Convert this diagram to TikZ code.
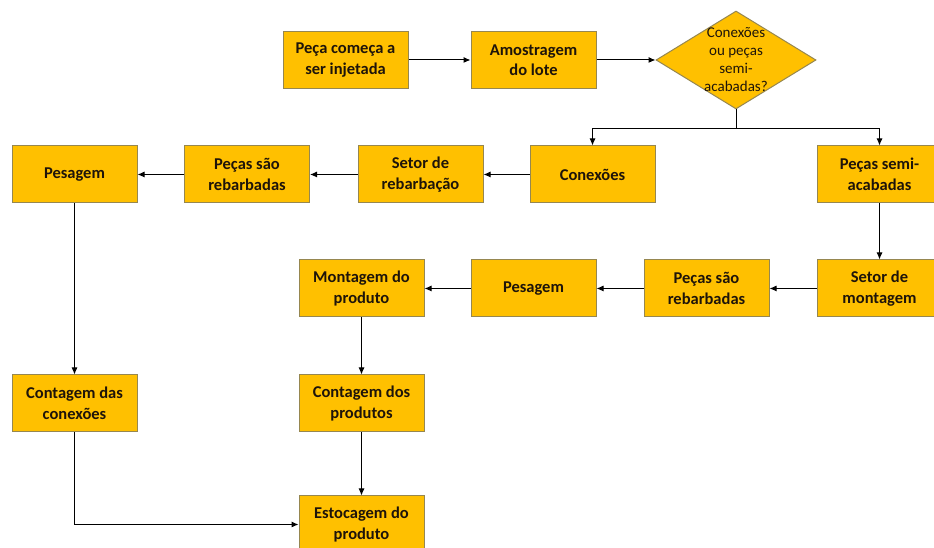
\documentclass[tikz,border=0pt]{standalone}
\usepackage{fontspec}
\setmainfont{Carlito}
\usetikzlibrary{arrows.meta, shapes.geometric, positioning}
\definecolor{boxfill}{HTML}{FFC000}
\definecolor{boxline}{RGB}{150,135,80}
\definecolor{boxtext}{RGB}{30,20,10}
\tikzset{>={Latex[length=7pt,width=6pt]}}

\begin{document}
\begin{tikzpicture}[x=1pt, y=1pt, line width=1pt,
    etapa/.style={draw=boxline, fill=boxfill, rectangle, minimum width=125pt, minimum height=57pt,
        align=center, text=boxtext, font=\fontsize{16.5}{20.5}\selectfont\bfseries},
    decisao/.style={draw=boxline, fill=boxfill, diamond, inner sep=0pt, minimum width=160pt, minimum height=98pt}]
    \useasboundingbox (0,0) rectangle (934,548);

    \node (inj) [etapa] at (345.5,488) {Peça começa a\\ser injetada};
    \node (amo) [etapa] at (533.5,488) {Amostragem\\do lote};
    \node (dec) [decisao, label={[align=center, text=boxtext, font=\fontsize{15}{18}\selectfont]center:Conexões\\ou peças\\semi-\\acabadas?}] at (736,488) {};

    \node (con) [etapa] at (592.5,373.5) {Conexões};
    \node (semi) [etapa] at (879.5,373.5) {Peças semi-\\acabadas};
    \node (setreb) [etapa] at (420.5,373.5) {Setor de\\rebarbação};
    \node (reb1) [etapa] at (247,373.5) {Peças são\\rebarbadas};
    \node (pes1) [etapa] at (74.5,373.5) {Pesagem};

    \node (setmon) [etapa] at (879.5,259.5) {Setor de\\montagem};
    \node (reb2) [etapa] at (706.5,259.5) {Peças são\\rebarbadas};
    \node (pes2) [etapa] at (533.5,259.5) {Pesagem};
    \node (mon) [etapa] at (361.5,259.5) {Montagem do\\produto};

    \node (cont1) [etapa] at (74.5,144.5) {Contagem das\\conexões};
    \node (cont2) [etapa] at (361.5,144.5) {Contagem dos\\produtos};
    \node (est) [etapa] at (361.5,23.5) {Estocagem do\\produto};

    \draw [->] (inj) -- (amo);
    \draw [->] (amo) -- (dec);
    \draw [->] (dec.south) -- ++(0,-19) -| (con.north);
    \draw [->] (dec.south) -- ++(0,-19) -| (semi.north);

    \draw [->] (con) -- (setreb);
    \draw [->] (setreb) -- (reb1);
    \draw [->] (reb1) -- (pes1);
    \draw [->] (pes1) -- (cont1);
    \draw [->] (cont1.south) |- (est.west);

    \draw [->] (semi) -- (setmon);
    \draw [->] (setmon) -- (reb2);
    \draw [->] (reb2) -- (pes2);
    \draw [->] (pes2) -- (mon);
    \draw [->] (mon) -- (cont2);
    \draw [->] (cont2) -- (est);
\end{tikzpicture}
\end{document}
